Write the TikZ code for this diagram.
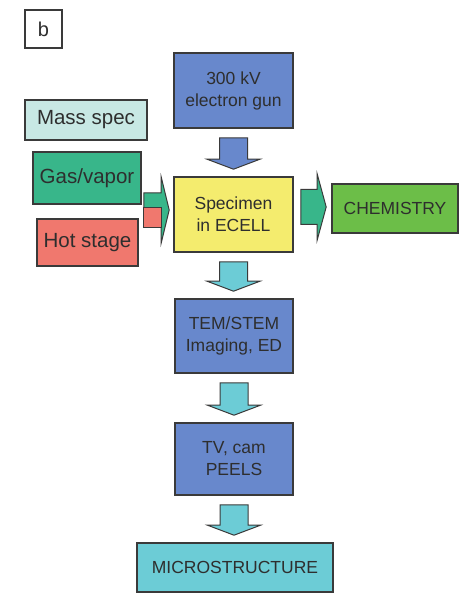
\documentclass[tikz,border=0pt]{standalone}
\usepackage{fontspec}
\setmainfont{Liberation Sans}
\usetikzlibrary{calc}
\definecolor{cblue}{HTML}{6888CC}
\definecolor{cyellow}{HTML}{F4EC6E}
\definecolor{cgreen}{HTML}{6CBE48}
\definecolor{cteal}{HTML}{38B68A}
\definecolor{csalmon}{HTML}{F0786E}
\definecolor{cpale}{HTML}{C8E8E4}
\definecolor{ccyan}{HTML}{6CCCD6}
\definecolor{cedge}{HTML}{3A3A3A}
\definecolor{ctext}{HTML}{2E2E2E}
\tikzset{
  box/.style={draw=cedge, line width=1.6pt, inner sep=0pt, align=center, text=ctext,
    font=\fontsize{17.5}{22}\selectfont},
  sidebox/.style={box, font=\fontsize{20.5}{24}\selectfont},
  arrowline/.style={draw=cedge, line width=1pt, line join=miter},
}
\newcommand\dnarrow[3]{%
  \draw[arrowline, fill=#3] let \p1=($(#1.south)+(0,9)$), \p2=($(#2.north)+(0,-7)$) in
  (\x1-14pt,\y1) -- (\x1+14pt,\y1) -- (\x1+14pt,\y2+10pt) -- (\x1+26.5pt,\y2+10pt)
  -- (\x1,\y2) -- (\x1-26.5pt,\y2+10pt) -- (\x1-14pt,\y2+10pt) -- cycle;}
\begin{document}
\begin{tikzpicture}[x=1pt,y=-1pt]
\useasboundingbox (0,0) rectangle (459,593);
% label
\node[box, minimum width=37pt, minimum height=38pt, font=\fontsize{20}{24}\selectfont] (lab) at (43.5,29) {b};
% left boxes
\node[sidebox, fill=cpale, minimum width=122pt, minimum height=40pt] (mass) at (86,120) {Mass spec};
\node[sidebox, fill=cteal, minimum width=108pt, minimum height=52pt] (gas) at (87,178) {Gas/vapor};
\node[sidebox, fill=csalmon, minimum width=101pt, minimum height=47pt] (hot) at (87.5,242.5) {Hot stage};
% centre column
\node[box, fill=cblue, minimum width=119pt, minimum height=75pt] (gun) at (233.5,90.5) {300 kV\\electron gun};
\node[box, fill=cyellow, minimum width=119pt, minimum height=75pt] (spec) at (233.5,214.5) {Specimen\\in ECELL};
\node[box, fill=cgreen, minimum width=126pt, minimum height=49pt] (chem) at (395,208.5) {CHEMISTRY};
\node[box, fill=cblue, minimum width=118pt, minimum height=74pt] (tem) at (234,336) {TEM/STEM\\Imaging, ED};
\node[box, fill=cblue, minimum width=118pt, minimum height=72pt] (tv) at (234,459) {TV, cam\\PEELS};
\node[box, fill=ccyan, minimum width=196pt, minimum height=49pt] (micro) at (235,567.5) {MICROSTRUCTURE};
% vertical block arrows
\dnarrow{gun}{spec}{cblue}
\dnarrow{spec}{tem}{ccyan}
\dnarrow{tem}{tv}{ccyan}
\dnarrow{tv}{micro}{ccyan}
% right block arrow: specimen -> chemistry
\draw[arrowline, fill=cteal] let \p1=($(spec.east |- chem.west)+(7,-1.5)$), \p2=($(chem.west)+(-5,-1.5)$) in
  (\x1,\y1+17.5pt) -- (\x2-9pt,\y1+17.5pt) -- (\x2-9pt,\y1+33pt) -- (\x2,\y1)
  -- (\x2-9pt,\y1-33pt) -- (\x2-9pt,\y1-17.5pt) -- (\x1,\y1-17.5pt) -- cycle;
% left block arrow: inputs -> specimen
\draw[arrowline, fill=cteal] let \p1=($(gas.east |- spec.west)+(2,-4.5)$), \p2=($(spec.west)+(-4,-4.5)$) in
  (\x1,\y1+17pt) -- (\x2-8pt,\y1+17pt) -- (\x2-8pt,\y1+33pt) -- (\x2,\y1)
  -- (\x2-8pt,\y1-33pt) -- (\x2-8pt,\y1-17pt) -- (\x1,\y1-17pt) -- cycle;
\node[draw=cedge, line width=1pt, fill=csalmon, minimum width=18pt, minimum height=20pt, inner sep=0pt] (hotsq) at (152,218) {};
\end{tikzpicture}
\end{document}
